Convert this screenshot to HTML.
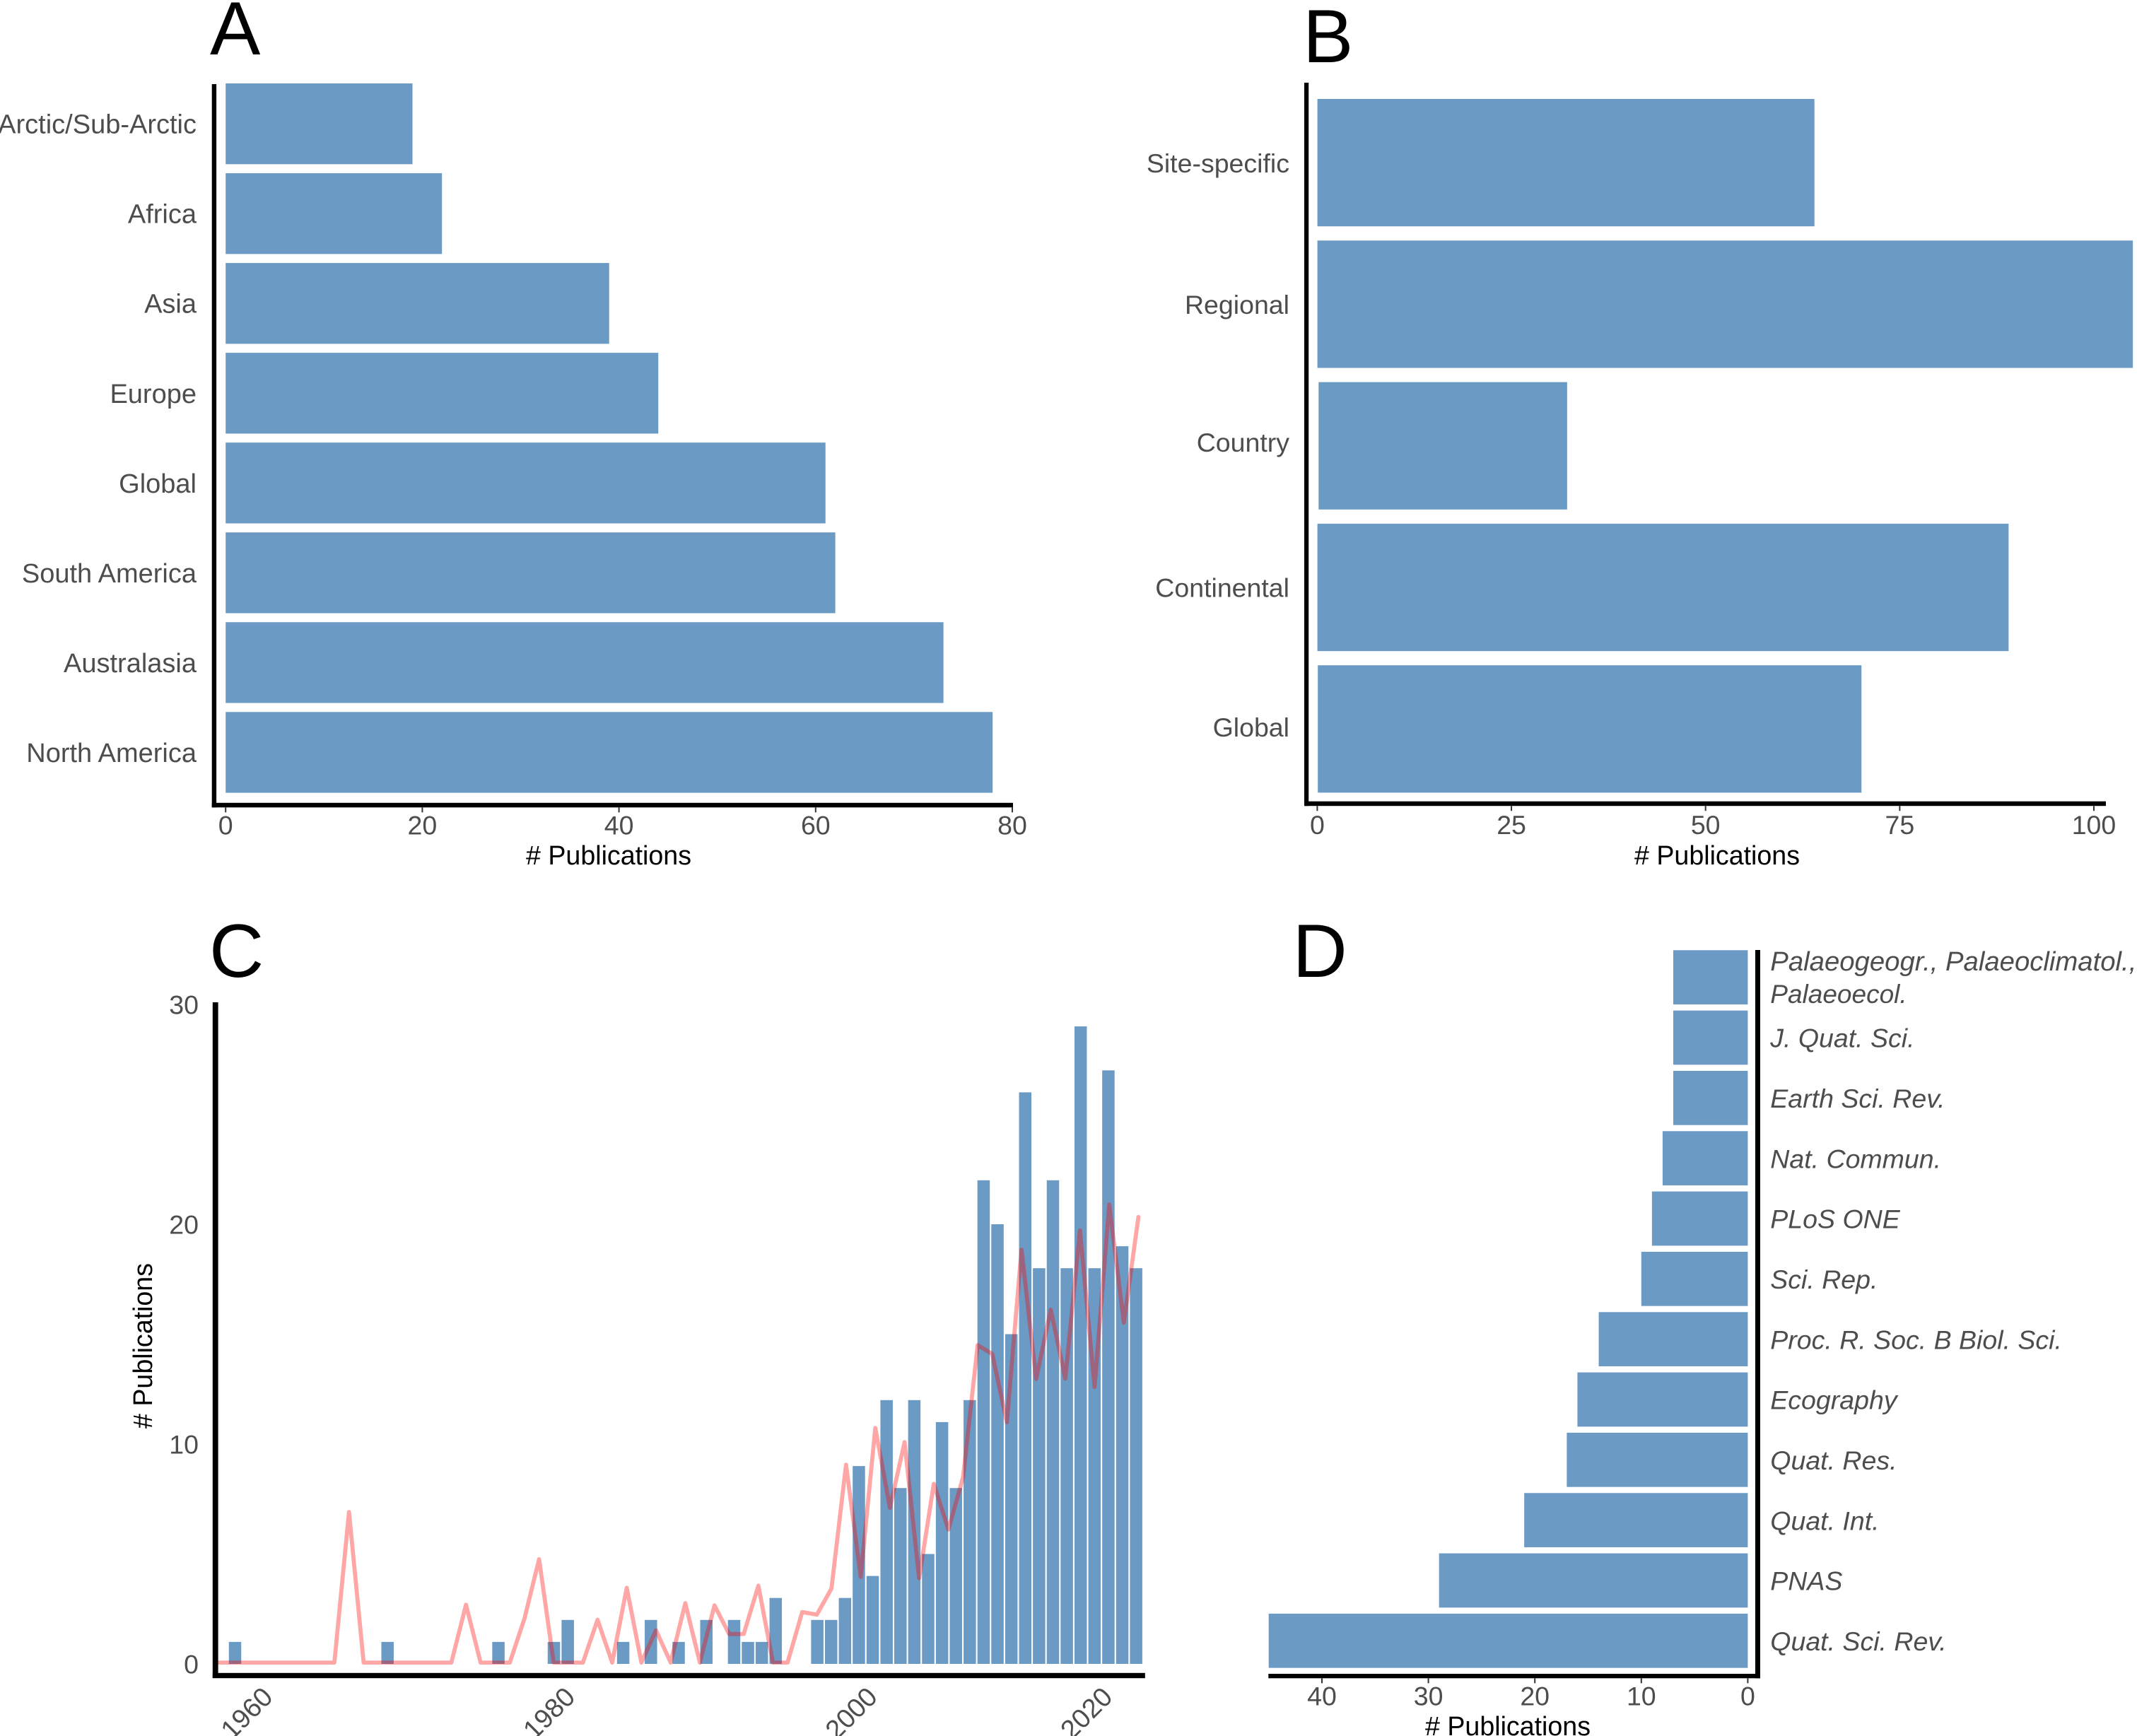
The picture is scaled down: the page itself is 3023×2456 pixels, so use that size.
<!DOCTYPE html>
<html lang="en">
<head>
<meta charset="utf-8">
<title>Publications figure</title>
<style>
html,body{margin:0;padding:0;background:#fff;width:3023px;height:2456px;overflow:hidden}
svg{display:block;font-family:"Liberation Sans",Arial,sans-serif}
.tick{font-size:37.5px;fill:#4d4d4d}
.wide{font-size:38px}
.title{font-size:37.6px;fill:#000}
.panel{font-size:107px;fill:#000}
.bar{fill:#6b9ac4}
.ital{font-style:italic}
</style>
</head>
<body>
<svg id="figure" xmlns="http://www.w3.org/2000/svg" width="3023" height="2456" viewBox="0 0 3023 2456">
  <rect x="0" y="0" width="3023" height="2456" fill="#fff"/>
  <text class="panel" x="297" y="77">A</text>
  <text class="panel" x="1843" y="88">B</text>
  <text class="panel" x="296" y="1382">C</text>
  <text class="panel" x="1828.5" y="1382">D</text>
  <g id="panelA"></g>
  <g id="panelB"></g>
  <g id="panelC"></g>
  <g id="panelD"></g>
</svg>
<script>
// Panel A data
const regionLabels = ["Arctic/Sub-Arctic","Africa","Asia","Europe","Global","South America","Australasia","North America"];
const regionValues = [19,22,39,44,61,62,73,78];
const regionTicks = [0,20,40,60,80];
// Panel B data
const scaleLabels = ["Site-specific","Regional","Country","Continental","Global"];
const scaleValues = [64,105,32,89,70];
const scaleTicks = [0,25,50,75,100];
// Panel C data (one entry per category slot, left to right)
const yearBarValues = [1,0,0,0,0,0,0,0,0,0,0,1,0,0,0,0,0,0,0,1,0,0,0,1,2,0,0,0,1,0,2,0,1,0,2,0,2,1,1,3,0,0,2,2,3,9,4,12,8,12,5,11,8,12,22,20,15,26,18,22,18,29,18,27,19,18];
const yearLineValues = [0,0,0,0,0,0,0,0,0,6.85,0,0,0,0,0,0,0,2.63,0,0,0,2.0,4.7,0,0,0,1.95,0,3.4,0,1.47,0,2.7,0,2.6,1.3,1.3,3.5,0,0,2.3,2.18,3.37,9.0,3.9,10.67,7.04,10.03,3.84,8.13,6.05,8.42,14.44,14.04,10.93,18.78,12.9,16.05,12.92,19.66,12.54,20.84,15.46,20.27];
const yearTickLabels = ["1960","1980","2000","2020"];
const yearTickSlots = [2.83,24.64,46.44,63.4];
const countTicks = [0,10,20,30];
// Panel D data
const journalLabels = [["Palaeogeogr., Palaeoclimatol.,","Palaeoecol."],["J. Quat. Sci."],["Earth Sci. Rev."],["Nat. Commun."],["PLoS ONE"],["Sci. Rep."],["Proc. R. Soc. B Biol. Sci."],["Ecography"],["Quat. Res."],["Quat. Int."],["PNAS"],["Quat. Sci. Rev."]];
const journalValues = [7,7,7,8,9,10,14,16,17,21,29,45];
const journalTicks = [40,30,20,10,0];

const NS = "http://www.w3.org/2000/svg";
function mk(tag, attrs, parent, text){
  const el = document.createElementNS(NS, tag);
  for(const k in attrs){ el.setAttribute(k, attrs[k]); }
  if(text !== undefined){ el.textContent = text; }
  parent.appendChild(el);
  return el;
}
function slug(s){ return String(s).toLowerCase().replace(/[^a-z0-9]+/g,'-').replace(/^-|-$/g,''); }
function axisRect(parent, name, x, y, w, h){
  const el = mk('rect',{x:x,y:y,width:w,height:h,fill:'#000'},parent);
  
  
}
function xTicks(parent, ticks, xScale, tickTop, labelBase){
  ticks.forEach(function(t){
    const m = mk('rect',{x:xScale(t)-1,y:tickTop,width:2,height:7,fill:'#333'},parent);
    
    
    const l = mk('text',{'class':'tick',x:xScale(t),y:labelBase,'text-anchor':'middle'},parent,t);
    
    
  });
}
function xTitle(parent, x, y){
  const t = mk('text',{'class':'title',x:x,y:y,'text-anchor':'middle'},parent,'# Publications');
  
  
}

/* Panel A */
(function(){
  const g = document.getElementById('panelA');
  const x = function(v){ return 319.2 + 13.91*v; };
  const y = function(i){ return 118 + 127.04*i; };
  const h = 114.3;
  regionValues.forEach(function(v,i){
    const r = mk('rect',{'class':'bar',x:x(0),y:y(i),width:x(v)-x(0),height:h},g);
    
    
    const l = mk('text',{'class':'tick wide',x:278,y:y(i)+h/2+13.5,'text-anchor':'end'},g,regionLabels[i]);
    
    
  });
  axisRect(g,'y-axis-line',299.7,119,6.4,1023.3);
  axisRect(g,'x-axis-line',299.7,1135.8,1133.3,6.5);
  xTicks(g,regionTicks,x,1142.3,1180.7);
  xTitle(g,861,1223);
})();

/* Panel B */
(function(){
  const g = document.getElementById('panelB');
  const x = function(v){ return 1863.6 + 10.986*v; };
  const y = function(i){ return 140 + 200.3*i; };
  const h = 180.2;
  const labelNudge = [0,-0.5,-5.5,-0.5,-3.5];
  const leftNudge = [0,0,1.7,0,0.6];
  scaleValues.forEach(function(v,i){
    const r = mk('rect',{'class':'bar',x:x(0)+leftNudge[i],y:y(i),width:x(v)-x(0),height:h},g);
    
    
    const l = mk('text',{'class':'tick',x:1824,y:y(i)+h/2+14+labelNudge[i],'text-anchor':'end'},g,scaleLabels[i]);
    
    
  });
  axisRect(g,'y-axis-line',1845,117,6.2,1023.2);
  axisRect(g,'x-axis-line',1845,1133.7,1134,6.5);
  xTicks(g,scaleTicks,function(v){ return 1863.4 + 10.986*v; },1140.2,1180);
  xTitle(g,2429,1223);
})();

/* Panel C */
(function(){
  const g = document.getElementById('panelC');
  const y = function(v){ return 2354 - 31.1*v; };
  const xBar = function(i){ return 332.5 + 19.61*i; };
  const xLine = function(j){ return 307.6 + 20.68*j; };
  const w = 17.5;
  yearBarValues.forEach(function(v,i){
    const r = mk('rect',{'class':'bar',x:xBar(i)-w/2,y:y(v),width:w,height:y(0)-y(v)},g);
    
    
  });
  const pts = yearLineValues.map(function(v,j){ return xLine(j).toFixed(1)+','+(y(v)-1.9).toFixed(1); }).join(' ');
  const line = mk('polyline',{points:pts,fill:'none',stroke:'#ff0000','stroke-opacity':0.35,'stroke-width':5.8,'stroke-linejoin':'round','stroke-linecap':'round'},g);
  
  
  axisRect(g,'y-axis-line',300.8,1418,7.8,956);
  axisRect(g,'x-axis-line',300.8,2366.8,1319,7.4);
  countTicks.forEach(function(t){
    const l = mk('text',{'class':'tick',x:281,y:y(t)+13.5,'text-anchor':'end'},g,t);
    
    
  });
  yearTickLabels.forEach(function(t,i){
    const px = xBar(yearTickSlots[i]);
    const l = mk('text',{'class':'tick wide','text-anchor':'end',transform:'translate('+px.toFixed(1)+',2403) rotate(-45)'},g,t);
    
    
  });
  const yt = mk('text',{'class':'title','text-anchor':'middle',transform:'translate(215,1904) rotate(-90)'},g,'# Publications');
  
  
})();

/* Panel D */
(function(){
  const g = document.getElementById('panelD');
  const x = function(v){ return 2472.4 - 15.06*v; };
  const y = function(i){ return 1344.3 + 85.33*i; };
  const h = 76.7;
  journalValues.forEach(function(v,i){
    const r = mk('rect',{'class':'bar',x:x(v),y:y(i),width:x(0)-x(v),height:h},g);
    
    
    const lines = journalLabels[i];
    lines.forEach(function(txt,k){
      const base = lines.length === 1 ? y(i)+h/2+13.7 : y(i)+28.7+46*k;
      const l = mk('text',{'class':'tick ital',x:2504.3,y:base},g,txt);
      if(lines.length > 1){ l.style.fontSize = k === 0 ? '38.3px' : '37px'; }
      
      
    });
  });
  axisRect(g,'y-axis-line',2483,1344,7,1030.3);
  axisRect(g,'x-axis-line',1794.3,2368,695.7,6.3);
  xTicks(g,journalTicks,x,2374.3,2412.7);
  xTitle(g,2133,2455);
})();
</script>
</body>
</html>
